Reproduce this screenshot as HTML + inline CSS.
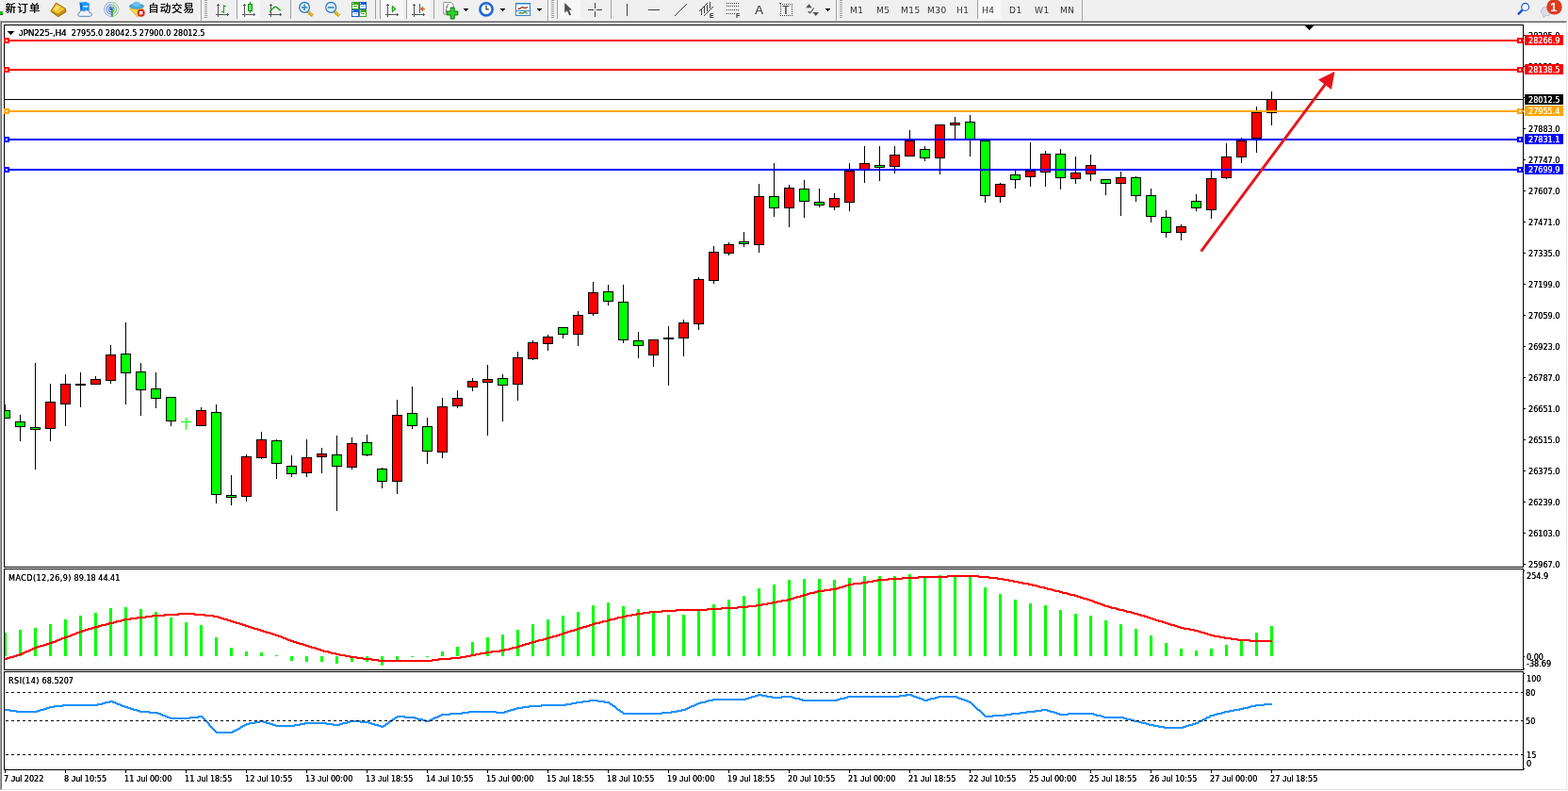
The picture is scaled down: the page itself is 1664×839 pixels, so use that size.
<!DOCTYPE html>
<html><head><meta charset="utf-8"><title>JPN225-,H4</title>
<style>
html,body{margin:0;padding:0;background:#f0f0f0;overflow:hidden}
body{width:1664px;height:839px;position:relative;font-family:"Liberation Sans","Noto Sans CJK SC",sans-serif}
#c{position:absolute;left:0;top:0}
.t{position:absolute;white-space:nowrap;color:#000;line-height:12px;height:12px}
.ax{font-family:"DejaVu Sans Condensed","Liberation Sans",sans-serif;font-size:9px;text-shadow:0 0 0 currentColor}
.w{color:#fff}
.L{font-family:"DejaVu Sans","Liberation Sans",sans-serif}
.J{font-family:"Liberation Sans",sans-serif}
.lb{width:37px;height:11px;padding-left:4px;overflow:hidden}
</style></head><body>
<svg id="c" width="1664" height="839" viewBox="0 0 1664 839" shape-rendering="crispEdges">
<rect x="0" y="21" width="1664" height="1" fill="#f5f5f5"/>
<rect x="0" y="22" width="1664" height="817" fill="#ffffff"/>
<rect x="0" y="22" width="1663" height="1" fill="#a0a0a0"/>
<rect x="0" y="22" width="1" height="816" fill="#a0a0a0"/>
<rect x="1" y="23" width="1661" height="1" fill="#696969"/>
<rect x="1" y="23" width="1" height="814" fill="#696969"/>
<rect x="1" y="837" width="1662" height="1" fill="#e3e3e3"/>
<rect x="1662" y="23" width="1" height="815" fill="#e3e3e3"/>
<rect x="0" y="838" width="1664" height="1" fill="#ffffff"/>
<rect x="1663" y="22" width="1" height="817" fill="#ffffff"/>
<rect x="4" y="26" width="1613" height="1" fill="#000"/>
<rect x="4" y="601" width="1613" height="1" fill="#000"/>
<rect x="4" y="26" width="1" height="576" fill="#000"/>
<rect x="1616" y="26" width="1" height="576" fill="#000"/>
<rect x="4" y="603" width="1613" height="1" fill="#000"/>
<rect x="4" y="710" width="1613" height="1" fill="#000"/>
<rect x="4" y="603" width="1" height="108" fill="#000"/>
<rect x="1616" y="603" width="1" height="108" fill="#000"/>
<rect x="4" y="712" width="1613" height="1" fill="#000"/>
<rect x="4" y="816" width="1613" height="1" fill="#000"/>
<rect x="4" y="712" width="1" height="105" fill="#000"/>
<rect x="1616" y="712" width="1" height="105" fill="#000"/>
<clipPath id="cm"><rect x="5" y="27" width="1611" height="574"/></clipPath>
<g clip-path="url(#cm)">
<rect x="5" y="429" width="1" height="15" fill="#000"/>
<rect x="0" y="435" width="11" height="9" fill="#000"/>
<rect x="1" y="436" width="9" height="7" fill="#00ff00"/>
<rect x="21" y="440" width="1" height="28" fill="#000"/>
<rect x="16" y="447" width="11" height="6" fill="#000"/>
<rect x="17" y="448" width="9" height="4" fill="#00ff00"/>
<rect x="37" y="385" width="1" height="113" fill="#000"/>
<rect x="32" y="453" width="11" height="3" fill="#000"/>
<rect x="33" y="454" width="9" height="1" fill="#00ff00"/>
<rect x="53" y="407" width="1" height="61" fill="#000"/>
<rect x="48" y="426" width="11" height="29" fill="#000"/>
<rect x="49" y="427" width="9" height="27" fill="#ff0000"/>
<rect x="69" y="397" width="1" height="55" fill="#000"/>
<rect x="64" y="407" width="11" height="22" fill="#000"/>
<rect x="65" y="408" width="9" height="20" fill="#ff0000"/>
<rect x="85" y="395" width="1" height="37" fill="#000"/>
<rect x="80" y="407" width="11" height="2" fill="#000"/>
<rect x="101" y="399" width="1" height="9" fill="#000"/>
<rect x="96" y="402" width="11" height="6" fill="#000"/>
<rect x="97" y="403" width="9" height="4" fill="#ff0000"/>
<rect x="117" y="366" width="1" height="41" fill="#000"/>
<rect x="112" y="376" width="11" height="28" fill="#000"/>
<rect x="113" y="377" width="9" height="26" fill="#ff0000"/>
<rect x="133" y="342" width="1" height="87" fill="#000"/>
<rect x="128" y="375" width="11" height="21" fill="#000"/>
<rect x="129" y="376" width="9" height="19" fill="#00ff00"/>
<rect x="149" y="385" width="1" height="56" fill="#000"/>
<rect x="144" y="394" width="11" height="20" fill="#000"/>
<rect x="145" y="395" width="9" height="18" fill="#00ff00"/>
<rect x="165" y="395" width="1" height="38" fill="#000"/>
<rect x="160" y="412" width="11" height="11" fill="#000"/>
<rect x="161" y="413" width="9" height="9" fill="#00ff00"/>
<rect x="181" y="421" width="1" height="31" fill="#000"/>
<rect x="176" y="421" width="11" height="26" fill="#000"/>
<rect x="177" y="422" width="9" height="24" fill="#00ff00"/>
<rect x="197" y="443" width="1" height="13" fill="#00ff00"/>
<rect x="192" y="447" width="11" height="1" fill="#00ff00"/>
<rect x="213" y="432" width="1" height="20" fill="#000"/>
<rect x="208" y="435" width="11" height="17" fill="#000"/>
<rect x="209" y="436" width="9" height="15" fill="#ff0000"/>
<rect x="229" y="429" width="1" height="105" fill="#000"/>
<rect x="224" y="437" width="11" height="88" fill="#000"/>
<rect x="225" y="438" width="9" height="86" fill="#00ff00"/>
<rect x="245" y="504" width="1" height="32" fill="#000"/>
<rect x="240" y="525" width="11" height="3" fill="#000"/>
<rect x="241" y="526" width="9" height="1" fill="#00ff00"/>
<rect x="261" y="482" width="1" height="50" fill="#000"/>
<rect x="256" y="484" width="11" height="43" fill="#000"/>
<rect x="257" y="485" width="9" height="41" fill="#ff0000"/>
<rect x="277" y="458" width="1" height="29" fill="#000"/>
<rect x="272" y="466" width="11" height="20" fill="#000"/>
<rect x="273" y="467" width="9" height="18" fill="#ff0000"/>
<rect x="293" y="466" width="1" height="42" fill="#000"/>
<rect x="288" y="467" width="11" height="25" fill="#000"/>
<rect x="289" y="468" width="9" height="23" fill="#00ff00"/>
<rect x="309" y="483" width="1" height="23" fill="#000"/>
<rect x="304" y="494" width="11" height="9" fill="#000"/>
<rect x="305" y="495" width="9" height="7" fill="#00ff00"/>
<rect x="325" y="466" width="1" height="40" fill="#000"/>
<rect x="320" y="485" width="11" height="17" fill="#000"/>
<rect x="321" y="486" width="9" height="15" fill="#ff0000"/>
<rect x="341" y="475" width="1" height="27" fill="#000"/>
<rect x="336" y="481" width="11" height="4" fill="#000"/>
<rect x="337" y="482" width="9" height="2" fill="#ff0000"/>
<rect x="357" y="462" width="1" height="80" fill="#000"/>
<rect x="352" y="482" width="11" height="13" fill="#000"/>
<rect x="353" y="483" width="9" height="11" fill="#00ff00"/>
<rect x="373" y="464" width="1" height="34" fill="#000"/>
<rect x="368" y="470" width="11" height="26" fill="#000"/>
<rect x="369" y="471" width="9" height="24" fill="#ff0000"/>
<rect x="389" y="461" width="1" height="23" fill="#000"/>
<rect x="384" y="469" width="11" height="14" fill="#000"/>
<rect x="385" y="470" width="9" height="12" fill="#00ff00"/>
<rect x="405" y="496" width="1" height="22" fill="#000"/>
<rect x="400" y="497" width="11" height="14" fill="#000"/>
<rect x="401" y="498" width="9" height="12" fill="#00ff00"/>
<rect x="421" y="424" width="1" height="100" fill="#000"/>
<rect x="416" y="440" width="11" height="71" fill="#000"/>
<rect x="417" y="441" width="9" height="69" fill="#ff0000"/>
<rect x="437" y="410" width="1" height="45" fill="#000"/>
<rect x="432" y="438" width="11" height="14" fill="#000"/>
<rect x="433" y="439" width="9" height="12" fill="#00ff00"/>
<rect x="453" y="443" width="1" height="49" fill="#000"/>
<rect x="448" y="452" width="11" height="27" fill="#000"/>
<rect x="449" y="453" width="9" height="25" fill="#00ff00"/>
<rect x="469" y="422" width="1" height="64" fill="#000"/>
<rect x="464" y="431" width="11" height="49" fill="#000"/>
<rect x="465" y="432" width="9" height="47" fill="#ff0000"/>
<rect x="485" y="414" width="1" height="19" fill="#000"/>
<rect x="480" y="422" width="11" height="9" fill="#000"/>
<rect x="481" y="423" width="9" height="7" fill="#ff0000"/>
<rect x="501" y="401" width="1" height="14" fill="#000"/>
<rect x="496" y="404" width="11" height="7" fill="#000"/>
<rect x="497" y="405" width="9" height="5" fill="#ff0000"/>
<rect x="517" y="387" width="1" height="75" fill="#000"/>
<rect x="512" y="402" width="11" height="4" fill="#000"/>
<rect x="513" y="403" width="9" height="2" fill="#ff0000"/>
<rect x="533" y="397" width="1" height="50" fill="#000"/>
<rect x="528" y="401" width="11" height="8" fill="#000"/>
<rect x="529" y="402" width="9" height="6" fill="#00ff00"/>
<rect x="549" y="373" width="1" height="52" fill="#000"/>
<rect x="544" y="379" width="11" height="29" fill="#000"/>
<rect x="545" y="380" width="9" height="27" fill="#ff0000"/>
<rect x="565" y="361" width="1" height="21" fill="#000"/>
<rect x="560" y="363" width="11" height="18" fill="#000"/>
<rect x="561" y="364" width="9" height="16" fill="#ff0000"/>
<rect x="581" y="355" width="1" height="17" fill="#000"/>
<rect x="576" y="357" width="11" height="8" fill="#000"/>
<rect x="577" y="358" width="9" height="6" fill="#ff0000"/>
<rect x="597" y="347" width="1" height="12" fill="#000"/>
<rect x="592" y="347" width="11" height="8" fill="#000"/>
<rect x="593" y="348" width="9" height="6" fill="#00ff00"/>
<rect x="613" y="330" width="1" height="37" fill="#000"/>
<rect x="608" y="334" width="11" height="21" fill="#000"/>
<rect x="609" y="335" width="9" height="19" fill="#ff0000"/>
<rect x="629" y="299" width="1" height="36" fill="#000"/>
<rect x="624" y="310" width="11" height="23" fill="#000"/>
<rect x="625" y="311" width="9" height="21" fill="#ff0000"/>
<rect x="645" y="302" width="1" height="22" fill="#000"/>
<rect x="640" y="309" width="11" height="11" fill="#000"/>
<rect x="641" y="310" width="9" height="9" fill="#00ff00"/>
<rect x="661" y="302" width="1" height="62" fill="#000"/>
<rect x="656" y="320" width="11" height="41" fill="#000"/>
<rect x="657" y="321" width="9" height="39" fill="#00ff00"/>
<rect x="677" y="352" width="1" height="28" fill="#000"/>
<rect x="672" y="361" width="11" height="6" fill="#000"/>
<rect x="673" y="362" width="9" height="4" fill="#00ff00"/>
<rect x="693" y="360" width="1" height="29" fill="#000"/>
<rect x="688" y="360" width="11" height="17" fill="#000"/>
<rect x="689" y="361" width="9" height="15" fill="#ff0000"/>
<rect x="709" y="346" width="1" height="63" fill="#000"/>
<rect x="704" y="358" width="11" height="2" fill="#000"/>
<rect x="725" y="339" width="1" height="39" fill="#000"/>
<rect x="720" y="342" width="11" height="17" fill="#000"/>
<rect x="721" y="343" width="9" height="15" fill="#ff0000"/>
<rect x="741" y="294" width="1" height="56" fill="#000"/>
<rect x="736" y="296" width="11" height="48" fill="#000"/>
<rect x="737" y="297" width="9" height="46" fill="#ff0000"/>
<rect x="757" y="261" width="1" height="40" fill="#000"/>
<rect x="752" y="267" width="11" height="31" fill="#000"/>
<rect x="753" y="268" width="9" height="29" fill="#ff0000"/>
<rect x="773" y="257" width="1" height="14" fill="#000"/>
<rect x="768" y="259" width="11" height="10" fill="#000"/>
<rect x="769" y="260" width="9" height="8" fill="#ff0000"/>
<rect x="789" y="246" width="1" height="16" fill="#000"/>
<rect x="784" y="256" width="11" height="3" fill="#000"/>
<rect x="785" y="257" width="9" height="1" fill="#00ff00"/>
<rect x="805" y="195" width="1" height="73" fill="#000"/>
<rect x="800" y="208" width="11" height="52" fill="#000"/>
<rect x="801" y="209" width="9" height="50" fill="#ff0000"/>
<rect x="821" y="173" width="1" height="57" fill="#000"/>
<rect x="816" y="208" width="11" height="13" fill="#000"/>
<rect x="817" y="209" width="9" height="11" fill="#00ff00"/>
<rect x="837" y="196" width="1" height="45" fill="#000"/>
<rect x="832" y="199" width="11" height="22" fill="#000"/>
<rect x="833" y="200" width="9" height="20" fill="#ff0000"/>
<rect x="853" y="191" width="1" height="40" fill="#000"/>
<rect x="848" y="200" width="11" height="14" fill="#000"/>
<rect x="849" y="201" width="9" height="12" fill="#00ff00"/>
<rect x="869" y="200" width="1" height="20" fill="#000"/>
<rect x="864" y="214" width="11" height="4" fill="#000"/>
<rect x="865" y="215" width="9" height="2" fill="#00ff00"/>
<rect x="885" y="205" width="1" height="18" fill="#000"/>
<rect x="880" y="210" width="11" height="10" fill="#000"/>
<rect x="881" y="211" width="9" height="8" fill="#ff0000"/>
<rect x="901" y="173" width="1" height="51" fill="#000"/>
<rect x="896" y="181" width="11" height="34" fill="#000"/>
<rect x="897" y="182" width="9" height="32" fill="#ff0000"/>
<rect x="917" y="155" width="1" height="39" fill="#000"/>
<rect x="912" y="173" width="11" height="8" fill="#000"/>
<rect x="913" y="174" width="9" height="6" fill="#ff0000"/>
<rect x="933" y="155" width="1" height="37" fill="#000"/>
<rect x="928" y="175" width="11" height="3" fill="#000"/>
<rect x="929" y="176" width="9" height="1" fill="#00ff00"/>
<rect x="949" y="155" width="1" height="29" fill="#000"/>
<rect x="944" y="164" width="11" height="13" fill="#000"/>
<rect x="945" y="165" width="9" height="11" fill="#ff0000"/>
<rect x="965" y="138" width="1" height="28" fill="#000"/>
<rect x="960" y="149" width="11" height="17" fill="#000"/>
<rect x="961" y="150" width="9" height="15" fill="#ff0000"/>
<rect x="981" y="155" width="1" height="16" fill="#000"/>
<rect x="976" y="158" width="11" height="10" fill="#000"/>
<rect x="977" y="159" width="9" height="8" fill="#00ff00"/>
<rect x="997" y="132" width="1" height="53" fill="#000"/>
<rect x="992" y="132" width="11" height="36" fill="#000"/>
<rect x="993" y="133" width="9" height="34" fill="#ff0000"/>
<rect x="1013" y="124" width="1" height="24" fill="#000"/>
<rect x="1008" y="130" width="11" height="3" fill="#000"/>
<rect x="1009" y="131" width="9" height="1" fill="#ff0000"/>
<rect x="1029" y="122" width="1" height="44" fill="#000"/>
<rect x="1024" y="129" width="11" height="19" fill="#000"/>
<rect x="1025" y="130" width="9" height="17" fill="#00ff00"/>
<rect x="1045" y="149" width="1" height="66" fill="#000"/>
<rect x="1040" y="149" width="11" height="59" fill="#000"/>
<rect x="1041" y="150" width="9" height="57" fill="#00ff00"/>
<rect x="1061" y="194" width="1" height="21" fill="#000"/>
<rect x="1056" y="195" width="11" height="14" fill="#000"/>
<rect x="1057" y="196" width="9" height="12" fill="#ff0000"/>
<rect x="1077" y="181" width="1" height="19" fill="#000"/>
<rect x="1072" y="185" width="11" height="6" fill="#000"/>
<rect x="1073" y="186" width="9" height="4" fill="#00ff00"/>
<rect x="1093" y="151" width="1" height="47" fill="#000"/>
<rect x="1088" y="181" width="11" height="7" fill="#000"/>
<rect x="1089" y="182" width="9" height="5" fill="#ff0000"/>
<rect x="1109" y="160" width="1" height="38" fill="#000"/>
<rect x="1104" y="163" width="11" height="20" fill="#000"/>
<rect x="1105" y="164" width="9" height="18" fill="#ff0000"/>
<rect x="1125" y="158" width="1" height="43" fill="#000"/>
<rect x="1120" y="163" width="11" height="26" fill="#000"/>
<rect x="1121" y="164" width="9" height="24" fill="#00ff00"/>
<rect x="1141" y="166" width="1" height="29" fill="#000"/>
<rect x="1136" y="183" width="11" height="7" fill="#000"/>
<rect x="1137" y="184" width="9" height="5" fill="#ff0000"/>
<rect x="1157" y="164" width="1" height="28" fill="#000"/>
<rect x="1152" y="175" width="11" height="10" fill="#000"/>
<rect x="1153" y="176" width="9" height="8" fill="#ff0000"/>
<rect x="1173" y="190" width="1" height="17" fill="#000"/>
<rect x="1168" y="190" width="11" height="5" fill="#000"/>
<rect x="1169" y="191" width="9" height="3" fill="#00ff00"/>
<rect x="1189" y="182" width="1" height="47" fill="#000"/>
<rect x="1184" y="188" width="11" height="7" fill="#000"/>
<rect x="1185" y="189" width="9" height="5" fill="#ff0000"/>
<rect x="1205" y="187" width="1" height="27" fill="#000"/>
<rect x="1200" y="188" width="11" height="20" fill="#000"/>
<rect x="1201" y="189" width="9" height="18" fill="#00ff00"/>
<rect x="1221" y="200" width="1" height="36" fill="#000"/>
<rect x="1216" y="207" width="11" height="23" fill="#000"/>
<rect x="1217" y="208" width="9" height="21" fill="#00ff00"/>
<rect x="1237" y="223" width="1" height="29" fill="#000"/>
<rect x="1232" y="230" width="11" height="17" fill="#000"/>
<rect x="1233" y="231" width="9" height="15" fill="#00ff00"/>
<rect x="1253" y="238" width="1" height="17" fill="#000"/>
<rect x="1248" y="240" width="11" height="7" fill="#000"/>
<rect x="1249" y="241" width="9" height="5" fill="#ff0000"/>
<rect x="1269" y="206" width="1" height="18" fill="#000"/>
<rect x="1264" y="213" width="11" height="8" fill="#000"/>
<rect x="1265" y="214" width="9" height="6" fill="#00ff00"/>
<rect x="1285" y="181" width="1" height="51" fill="#000"/>
<rect x="1280" y="189" width="11" height="34" fill="#000"/>
<rect x="1281" y="190" width="9" height="32" fill="#ff0000"/>
<rect x="1301" y="152" width="1" height="38" fill="#000"/>
<rect x="1296" y="166" width="11" height="23" fill="#000"/>
<rect x="1297" y="167" width="9" height="21" fill="#ff0000"/>
<rect x="1317" y="146" width="1" height="27" fill="#000"/>
<rect x="1312" y="149" width="11" height="18" fill="#000"/>
<rect x="1313" y="150" width="9" height="16" fill="#ff0000"/>
<rect x="1333" y="113" width="1" height="49" fill="#000"/>
<rect x="1328" y="119" width="11" height="28" fill="#000"/>
<rect x="1329" y="120" width="9" height="26" fill="#ff0000"/>
<rect x="1349" y="97" width="1" height="36" fill="#000"/>
<rect x="1344" y="105" width="11" height="15" fill="#000"/>
<rect x="1345" y="106" width="9" height="13" fill="#ff0000"/>
</g>
<rect x="5" y="42" width="1612" height="2" fill="#ff0000"/>
<rect x="4" y="40" width="6" height="6" fill="#ff0000"/>
<rect x="6" y="42" width="2" height="2" fill="#fff"/>
<rect x="1610" y="40" width="6" height="6" fill="#ff0000"/>
<rect x="1612" y="42" width="2" height="2" fill="#fff"/>
<rect x="5" y="73" width="1612" height="2" fill="#ff0000"/>
<rect x="4" y="71" width="6" height="6" fill="#ff0000"/>
<rect x="6" y="73" width="2" height="2" fill="#fff"/>
<rect x="1610" y="71" width="6" height="6" fill="#ff0000"/>
<rect x="1612" y="73" width="2" height="2" fill="#fff"/>
<rect x="5" y="105" width="1612" height="1" fill="#000000"/>
<rect x="5" y="117" width="1612" height="2" fill="#ffa500"/>
<rect x="4" y="115" width="6" height="6" fill="#ffa500"/>
<rect x="6" y="117" width="2" height="2" fill="#fff"/>
<rect x="1610" y="115" width="6" height="6" fill="#ffa500"/>
<rect x="1612" y="117" width="2" height="2" fill="#fff"/>
<rect x="5" y="147" width="1612" height="2" fill="#0000ff"/>
<rect x="4" y="145" width="6" height="6" fill="#0000ff"/>
<rect x="6" y="147" width="2" height="2" fill="#fff"/>
<rect x="1610" y="145" width="6" height="6" fill="#0000ff"/>
<rect x="1612" y="147" width="2" height="2" fill="#fff"/>
<rect x="5" y="179" width="1612" height="2" fill="#0000ff"/>
<rect x="4" y="177" width="6" height="6" fill="#0000ff"/>
<rect x="6" y="179" width="2" height="2" fill="#fff"/>
<rect x="1610" y="177" width="6" height="6" fill="#0000ff"/>
<rect x="1612" y="179" width="2" height="2" fill="#fff"/>
<rect x="1617" y="37" width="2" height="1" fill="#000"/>
<rect x="1617" y="70" width="2" height="1" fill="#000"/>
<rect x="1617" y="103" width="2" height="1" fill="#000"/>
<rect x="1617" y="136" width="2" height="1" fill="#000"/>
<rect x="1617" y="169" width="2" height="1" fill="#000"/>
<rect x="1617" y="202" width="2" height="1" fill="#000"/>
<rect x="1617" y="235" width="2" height="1" fill="#000"/>
<rect x="1617" y="268" width="2" height="1" fill="#000"/>
<rect x="1617" y="301" width="2" height="1" fill="#000"/>
<rect x="1617" y="334" width="2" height="1" fill="#000"/>
<rect x="1617" y="367" width="2" height="1" fill="#000"/>
<rect x="1617" y="400" width="2" height="1" fill="#000"/>
<rect x="1617" y="433" width="2" height="1" fill="#000"/>
<rect x="1617" y="466" width="2" height="1" fill="#000"/>
<rect x="1617" y="499" width="2" height="1" fill="#000"/>
<rect x="1617" y="532" width="2" height="1" fill="#000"/>
<rect x="1617" y="565" width="2" height="1" fill="#000"/>
<rect x="1617" y="598" width="2" height="1" fill="#000"/>
<clipPath id="c2"><rect x="5" y="604" width="1611" height="106"/></clipPath>
<g clip-path="url(#c2)">
<rect x="4" y="671" width="3" height="25" fill="#00ff00"/>
<rect x="20" y="668" width="3" height="28" fill="#00ff00"/>
<rect x="36" y="666" width="3" height="30" fill="#00ff00"/>
<rect x="52" y="662" width="3" height="34" fill="#00ff00"/>
<rect x="68" y="657" width="3" height="39" fill="#00ff00"/>
<rect x="84" y="653" width="3" height="43" fill="#00ff00"/>
<rect x="100" y="650" width="3" height="46" fill="#00ff00"/>
<rect x="116" y="645" width="3" height="51" fill="#00ff00"/>
<rect x="132" y="644" width="3" height="52" fill="#00ff00"/>
<rect x="148" y="646" width="3" height="50" fill="#00ff00"/>
<rect x="164" y="649" width="3" height="47" fill="#00ff00"/>
<rect x="180" y="655" width="3" height="41" fill="#00ff00"/>
<rect x="196" y="660" width="3" height="36" fill="#00ff00"/>
<rect x="212" y="663" width="3" height="33" fill="#00ff00"/>
<rect x="228" y="676" width="3" height="20" fill="#00ff00"/>
<rect x="244" y="687" width="3" height="9" fill="#00ff00"/>
<rect x="260" y="691" width="3" height="5" fill="#00ff00"/>
<rect x="276" y="692" width="3" height="4" fill="#00ff00"/>
<rect x="292" y="695" width="3" height="1" fill="#00ff00"/>
<rect x="468" y="691" width="3" height="5" fill="#00ff00"/>
<rect x="484" y="686" width="3" height="10" fill="#00ff00"/>
<rect x="500" y="681" width="3" height="15" fill="#00ff00"/>
<rect x="516" y="676" width="3" height="20" fill="#00ff00"/>
<rect x="532" y="673" width="3" height="23" fill="#00ff00"/>
<rect x="548" y="668" width="3" height="28" fill="#00ff00"/>
<rect x="564" y="662" width="3" height="34" fill="#00ff00"/>
<rect x="580" y="657" width="3" height="39" fill="#00ff00"/>
<rect x="596" y="653" width="3" height="43" fill="#00ff00"/>
<rect x="612" y="649" width="3" height="47" fill="#00ff00"/>
<rect x="628" y="642" width="3" height="54" fill="#00ff00"/>
<rect x="644" y="639" width="3" height="57" fill="#00ff00"/>
<rect x="660" y="643" width="3" height="53" fill="#00ff00"/>
<rect x="676" y="646" width="3" height="50" fill="#00ff00"/>
<rect x="692" y="650" width="3" height="46" fill="#00ff00"/>
<rect x="708" y="652" width="3" height="44" fill="#00ff00"/>
<rect x="724" y="652" width="3" height="44" fill="#00ff00"/>
<rect x="740" y="648" width="3" height="48" fill="#00ff00"/>
<rect x="756" y="641" width="3" height="55" fill="#00ff00"/>
<rect x="772" y="636" width="3" height="60" fill="#00ff00"/>
<rect x="788" y="632" width="3" height="64" fill="#00ff00"/>
<rect x="804" y="624" width="3" height="72" fill="#00ff00"/>
<rect x="820" y="620" width="3" height="76" fill="#00ff00"/>
<rect x="836" y="615" width="3" height="81" fill="#00ff00"/>
<rect x="852" y="614" width="3" height="82" fill="#00ff00"/>
<rect x="868" y="614" width="3" height="82" fill="#00ff00"/>
<rect x="884" y="615" width="3" height="81" fill="#00ff00"/>
<rect x="900" y="613" width="3" height="83" fill="#00ff00"/>
<rect x="916" y="611" width="3" height="85" fill="#00ff00"/>
<rect x="932" y="611" width="3" height="85" fill="#00ff00"/>
<rect x="948" y="611" width="3" height="85" fill="#00ff00"/>
<rect x="964" y="609" width="3" height="87" fill="#00ff00"/>
<rect x="980" y="611" width="3" height="85" fill="#00ff00"/>
<rect x="996" y="610" width="3" height="86" fill="#00ff00"/>
<rect x="1012" y="610" width="3" height="86" fill="#00ff00"/>
<rect x="1028" y="612" width="3" height="84" fill="#00ff00"/>
<rect x="1044" y="623" width="3" height="73" fill="#00ff00"/>
<rect x="1060" y="630" width="3" height="66" fill="#00ff00"/>
<rect x="1076" y="636" width="3" height="60" fill="#00ff00"/>
<rect x="1092" y="640" width="3" height="56" fill="#00ff00"/>
<rect x="1108" y="642" width="3" height="54" fill="#00ff00"/>
<rect x="1124" y="647" width="3" height="49" fill="#00ff00"/>
<rect x="1140" y="651" width="3" height="45" fill="#00ff00"/>
<rect x="1156" y="653" width="3" height="43" fill="#00ff00"/>
<rect x="1172" y="658" width="3" height="38" fill="#00ff00"/>
<rect x="1188" y="662" width="3" height="34" fill="#00ff00"/>
<rect x="1204" y="667" width="3" height="29" fill="#00ff00"/>
<rect x="1220" y="674" width="3" height="22" fill="#00ff00"/>
<rect x="1236" y="682" width="3" height="14" fill="#00ff00"/>
<rect x="1252" y="688" width="3" height="8" fill="#00ff00"/>
<rect x="1268" y="690" width="3" height="6" fill="#00ff00"/>
<rect x="1284" y="688" width="3" height="8" fill="#00ff00"/>
<rect x="1300" y="684" width="3" height="12" fill="#00ff00"/>
<rect x="1316" y="678" width="3" height="18" fill="#00ff00"/>
<rect x="1332" y="671" width="3" height="25" fill="#00ff00"/>
<rect x="1348" y="664" width="3" height="32" fill="#00ff00"/>
<rect x="308" y="696" width="3" height="5" fill="#00ff00"/>
<rect x="324" y="696" width="3" height="6" fill="#00ff00"/>
<rect x="340" y="696" width="3" height="6" fill="#00ff00"/>
<rect x="356" y="696" width="3" height="8" fill="#00ff00"/>
<rect x="372" y="696" width="3" height="6" fill="#00ff00"/>
<rect x="388" y="696" width="3" height="6" fill="#00ff00"/>
<rect x="404" y="696" width="3" height="10" fill="#00ff00"/>
<rect x="420" y="696" width="3" height="4" fill="#00ff00"/>
<rect x="436" y="696" width="3" height="1" fill="#00ff00"/>
<rect x="452" y="696" width="3" height="1" fill="#00ff00"/>
<path d="M1005 610h34v1h-34zM974 611h76v1h-76zM957 612h49v1h-49zM1038 612h21v1h-21zM942 613h33v1h-33zM1049 613h16v1h-16zM931 614h27v1h-27zM1058 614h13v1h-13zM926 615h17v1h-17zM1064 615h12v1h-12zM920 616h12v1h-12zM1070 616h11v1h-11zM914 617h13v1h-13zM1075 617h11v1h-11zM905 618h16v1h-16zM1080 618h12v1h-12zM900 619h15v1h-15zM1085 619h11v1h-11zM897 620h9v1h-9zM1091 620h10v1h-10zM894 621h7v1h-7zM1095 621h9v1h-9zM890 622h8v1h-8zM1100 622h9v1h-9zM887 623h8v1h-8zM1103 623h9v1h-9zM881 624h10v1h-10zM1108 624h9v1h-9zM874 625h14v1h-14zM1111 625h9v1h-9zM867 626h15v1h-15zM1116 626h9v1h-9zM864 627h11v1h-11zM1119 627h9v1h-9zM859 628h9v1h-9zM1124 628h9v1h-9zM856 629h9v1h-9zM1127 629h9v1h-9zM852 630h8v1h-8zM1132 630h9v1h-9zM849 631h8v1h-8zM1135 631h9v1h-9zM845 632h8v1h-8zM1140 632h7v1h-7zM842 633h8v1h-8zM1143 633h7v1h-7zM839 634h7v1h-7zM1146 634h8v1h-8zM835 635h8v1h-8zM1149 635h8v1h-8zM829 636h11v1h-11zM1153 636h7v1h-7zM824 637h12v1h-12zM1156 637h6v1h-6zM819 638h11v1h-11zM1159 638h6v1h-6zM814 639h11v1h-11zM1161 639h7v1h-7zM808 640h12v1h-12zM1164 640h7v1h-7zM802 641h13v1h-13zM1167 641h6v1h-6zM793 642h16v1h-16zM1170 642h7v1h-7zM782 643h21v1h-21zM1172 643h8v1h-8zM765 644h29v1h-29zM1176 644h9v1h-9zM750 645h33v1h-33zM1179 645h9v1h-9zM717 646h49v1h-49zM1184 646h9v1h-9zM702 647h49v1h-49zM1187 647h9v1h-9zM689 648h29v1h-29zM1192 648h9v1h-9zM682 649h21v1h-21zM1195 649h9v1h-9zM189 650h18v1h-18zM675 650h15v1h-15zM1200 650h8v1h-8zM174 651h44v1h-44zM670 651h13v1h-13zM1203 651h8v1h-8zM161 652h29v1h-29zM206 652h21v1h-21zM664 652h12v1h-12zM1207 652h8v1h-8zM154 653h21v1h-21zM217 653h15v1h-15zM660 653h11v1h-11zM1210 653h8v1h-8zM145 654h17v1h-17zM226 654h9v1h-9zM655 654h10v1h-10zM1214 654h7v1h-7zM138 655h17v1h-17zM231 655h7v1h-7zM652 655h9v1h-9zM1217 655h7v1h-7zM131 656h15v1h-15zM234 656h8v1h-8zM647 656h9v1h-9zM1220 656h7v1h-7zM128 657h11v1h-11zM237 657h8v1h-8zM644 657h9v1h-9zM1223 657h7v1h-7zM123 658h9v1h-9zM241 658h7v1h-7zM639 658h9v1h-9zM1226 658h8v1h-8zM120 659h9v1h-9zM244 659h7v1h-7zM636 659h9v1h-9zM1229 659h8v1h-8zM115 660h9v1h-9zM247 660h8v1h-8zM631 660h9v1h-9zM1233 660h7v1h-7zM112 661h9v1h-9zM250 661h8v1h-8zM628 661h9v1h-9zM1236 661h7v1h-7zM107 662h9v1h-9zM254 662h7v1h-7zM625 662h7v1h-7zM1239 662h8v1h-8zM104 663h9v1h-9zM257 663h7v1h-7zM622 663h7v1h-7zM1242 663h8v1h-8zM100 664h8v1h-8zM260 664h7v1h-7zM618 664h8v1h-8zM1246 664h7v1h-7zM97 665h8v1h-8zM263 665h7v1h-7zM615 665h8v1h-8zM1249 665h8v1h-8zM93 666h8v1h-8zM266 666h8v1h-8zM612 666h7v1h-7zM1252 666h11v1h-11zM90 667h8v1h-8zM269 667h8v1h-8zM609 667h7v1h-7zM1256 667h12v1h-12zM87 668h7v1h-7zM273 668h7v1h-7zM605 668h8v1h-8zM1262 668h10v1h-10zM84 669h7v1h-7zM276 669h7v1h-7zM602 669h8v1h-8zM1267 669h8v1h-8zM81 670h7v1h-7zM279 670h8v1h-8zM599 670h7v1h-7zM1271 670h8v1h-8zM79 671h6v1h-6zM282 671h8v1h-8zM596 671h7v1h-7zM1274 671h8v1h-8zM76 672h6v1h-6zM286 672h7v1h-7zM593 672h7v1h-7zM1278 672h7v1h-7zM74 673h6v1h-6zM289 673h7v1h-7zM590 673h7v1h-7zM1281 673h8v1h-8zM71 674h6v1h-6zM292 674h7v1h-7zM586 674h8v1h-8zM1284 674h11v1h-11zM68 675h7v1h-7zM295 675h6v1h-6zM583 675h8v1h-8zM1288 675h12v1h-12zM65 676h7v1h-7zM298 676h6v1h-6zM579 676h8v1h-8zM1294 676h13v1h-13zM63 677h6v1h-6zM300 677h6v1h-6zM576 677h8v1h-8zM1299 677h15v1h-15zM60 678h6v1h-6zM303 678h6v1h-6zM571 678h9v1h-9zM1306 678h21v1h-21zM58 679h6v1h-6zM305 679h7v1h-7zM568 679h9v1h-9zM1313 679h37v1h-37zM55 680h6v1h-6zM308 680h7v1h-7zM564 680h8v1h-8zM1326 680h24v1h-24zM52 681h7v1h-7zM311 681h7v1h-7zM561 681h8v1h-8zM49 682h7v1h-7zM314 682h8v1h-8zM557 682h8v1h-8zM46 683h7v1h-7zM317 683h8v1h-8zM554 683h8v1h-8zM42 684h8v1h-8zM321 684h7v1h-7zM551 684h7v1h-7zM39 685h8v1h-8zM324 685h7v1h-7zM548 685h7v1h-7zM36 686h7v1h-7zM327 686h8v1h-8zM543 686h9v1h-9zM34 687h6v1h-6zM330 687h8v1h-8zM540 687h9v1h-9zM32 688h5v1h-5zM334 688h7v1h-7zM535 688h9v1h-9zM30 689h5v1h-5zM337 689h7v1h-7zM530 689h11v1h-11zM27 690h6v1h-6zM340 690h9v1h-9zM521 690h15v1h-15zM25 691h6v1h-6zM343 691h9v1h-9zM515 691h16v1h-16zM23 692h5v1h-5zM348 692h9v1h-9zM509 692h13v1h-13zM20 693h6v1h-6zM351 693h10v1h-10zM504 693h12v1h-12zM17 694h7v1h-7zM356 694h11v1h-11zM499 694h11v1h-11zM14 695h7v1h-7zM360 695h12v1h-12zM494 695h11v1h-11zM10 696h8v1h-8zM366 696h13v1h-13zM488 696h12v1h-12zM7 697h8v1h-8zM371 697h15v1h-15zM478 697h17v1h-17zM5 698h6v1h-6zM378 698h17v1h-17zM465 698h24v1h-24zM5 699h3v1h-3zM385 699h17v1h-17zM458 699h21v1h-21zM394 700h72v1h-72zM401 701h58v1h-58z" fill="#ff0000"/>
</g>
<rect x="1617" y="605" width="1" height="1" fill="#000"/>
<rect x="1617" y="696" width="1" height="1" fill="#000"/>
<rect x="1617" y="709" width="1" height="1" fill="#000"/>
<clipPath id="c3"><rect x="5" y="713" width="1611" height="103"/></clipPath>
<g clip-path="url(#c3)">
<path d="M804 736h5v1h-5zM961 736h7v1h-7zM801 737h13v1h-13zM954 737h16v1h-16zM797 738h8v1h-8zM808 738h12v1h-12zM829 738h12v1h-12zM899 738h63v1h-63zM967 738h6v1h-6zM995 738h21v1h-21zM794 739h8v1h-8zM813 739h31v1h-31zM896 739h59v1h-59zM969 739h7v1h-7zM992 739h26v1h-26zM791 740h7v1h-7zM819 740h11v1h-11zM840 740h9v1h-9zM891 740h9v1h-9zM972 740h7v1h-7zM987 740h9v1h-9zM1015 740h6v1h-6zM756 741h39v1h-39zM843 741h9v1h-9zM888 741h9v1h-9zM975 741h6v1h-6zM984 741h9v1h-9zM1017 741h7v1h-7zM625 742h10v1h-10zM751 742h41v1h-41zM848 742h44v1h-44zM978 742h10v1h-10zM1020 742h7v1h-7zM116 743h4v1h-4zM618 743h24v1h-24zM748 743h9v1h-9zM851 743h38v1h-38zM980 743h5v1h-5zM1023 743h6v1h-6zM111 744h12v1h-12zM611 744h15v1h-15zM634 744h13v1h-13zM743 744h9v1h-9zM1026 744h5v1h-5zM108 745h9v1h-9zM119 745h6v1h-6zM606 745h13v1h-13zM641 745h7v1h-7zM740 745h9v1h-9zM1028 745h4v1h-4zM103 746h9v1h-9zM122 746h6v1h-6zM600 746h12v1h-12zM646 746h4v1h-4zM738 746h6v1h-6zM1030 746h3v1h-3zM1341 746h9v1h-9zM66 747h43v1h-43zM124 747h6v1h-6zM574 747h33v1h-33zM647 747h4v1h-4zM736 747h5v1h-5zM1031 747h3v1h-3zM1332 747h18v1h-18zM57 748h47v1h-47zM127 748h6v1h-6zM561 748h40v1h-40zM649 748h4v1h-4zM733 748h6v1h-6zM1032 748h3v1h-3zM1327 748h15v1h-15zM52 749h15v1h-15zM129 749h7v1h-7zM554 749h21v1h-21zM650 749h4v1h-4zM731 749h6v1h-6zM1033 749h3v1h-3zM1324 749h9v1h-9zM49 750h9v1h-9zM132 750h7v1h-7zM548 750h14v1h-14zM652 750h3v1h-3zM729 750h5v1h-5zM1034 750h3v1h-3zM1319 750h9v1h-9zM46 751h7v1h-7zM135 751h7v1h-7zM545 751h10v1h-10zM653 751h3v1h-3zM727 751h5v1h-5zM1035 751h3v1h-3zM1315 751h10v1h-10zM5 752h6v1h-6zM42 752h8v1h-8zM138 752h8v1h-8zM541 752h8v1h-8zM654 752h4v1h-4zM723 752h7v1h-7zM1036 752h4v1h-4zM1105 752h7v1h-7zM1309 752h11v1h-11zM5 753h13v1h-13zM39 753h8v1h-8zM141 753h8v1h-8zM538 753h8v1h-8zM655 753h4v1h-4zM718 753h10v1h-10zM1037 753h4v1h-4zM1098 753h17v1h-17zM1304 753h12v1h-12zM10 754h33v1h-33zM145 754h14v1h-14zM497 754h30v1h-30zM535 754h7v1h-7zM657 754h4v1h-4zM712 754h12v1h-12zM1039 754h3v1h-3zM1089 754h17v1h-17zM1111 754h8v1h-8zM1299 754h11v1h-11zM17 755h23v1h-23zM148 755h20v1h-20zM490 755h49v1h-49zM658 755h4v1h-4zM702 755h17v1h-17zM1040 755h3v1h-3zM1082 755h17v1h-17zM1114 755h8v1h-8zM1296 755h9v1h-9zM158 756h13v1h-13zM477 756h21v1h-21zM526 756h10v1h-10zM660 756h53v1h-53zM1041 756h3v1h-3zM1073 756h17v1h-17zM1118 756h7v1h-7zM1133 756h28v1h-28zM1291 756h9v1h-9zM167 757h6v1h-6zM468 757h23v1h-23zM661 757h42v1h-42zM1042 757h3v1h-3zM1066 757h17v1h-17zM1121 757h43v1h-43zM1288 757h9v1h-9zM170 758h6v1h-6zM466 758h12v1h-12zM1043 758h3v1h-3zM1053 758h21v1h-21zM1124 758h10v1h-10zM1160 758h9v1h-9zM1284 758h8v1h-8zM172 759h6v1h-6zM210 759h5v1h-5zM421 759h9v1h-9zM464 759h5v1h-5zM1044 759h23v1h-23zM1163 759h9v1h-9zM1283 759h6v1h-6zM175 760h6v1h-6zM201 760h15v1h-15zM419 760h22v1h-22zM461 760h6v1h-6zM1045 760h9v1h-9zM1168 760h25v1h-25zM1280 760h5v1h-5zM177 761h34v1h-34zM214 761h3v1h-3zM418 761h4v1h-4zM429 761h15v1h-15zM459 761h6v1h-6zM1171 761h25v1h-25zM1279 761h5v1h-5zM180 762h22v1h-22zM215 762h3v1h-3zM416 762h4v1h-4zM440 762h9v1h-9zM457 762h5v1h-5zM1192 762h9v1h-9zM1276 762h5v1h-5zM216 763h3v1h-3zM415 763h4v1h-4zM443 763h9v1h-9zM455 763h5v1h-5zM1195 763h9v1h-9zM1275 763h5v1h-5zM217 764h3v1h-3zM275 764h5v1h-5zM371 764h12v1h-12zM413 764h4v1h-4zM448 764h10v1h-10zM1200 764h9v1h-9zM1272 764h5v1h-5zM218 765h3v1h-3zM270 765h13v1h-13zM368 765h24v1h-24zM412 765h4v1h-4zM451 765h5v1h-5zM1203 765h9v1h-9zM1271 765h5v1h-5zM219 766h3v1h-3zM264 766h12v1h-12zM279 766h8v1h-8zM323 766h24v1h-24zM363 766h9v1h-9zM382 766h13v1h-13zM411 766h3v1h-3zM1208 766h9v1h-9zM1268 766h5v1h-5zM220 767h3v1h-3zM261 767h10v1h-10zM282 767h8v1h-8zM318 767h36v1h-36zM360 767h9v1h-9zM391 767h7v1h-7zM409 767h4v1h-4zM1211 767h9v1h-9zM1265 767h7v1h-7zM221 768h2v1h-2zM259 768h6v1h-6zM286 768h7v1h-7zM312 768h12v1h-12zM346 768h18v1h-18zM394 768h8v1h-8zM408 768h4v1h-4zM1216 768h9v1h-9zM1261 768h8v1h-8zM221 769h3v1h-3zM257 769h5v1h-5zM289 769h30v1h-30zM353 769h8v1h-8zM397 769h8v1h-8zM406 769h4v1h-4zM1219 769h11v1h-11zM1258 769h8v1h-8zM222 770h3v1h-3zM255 770h5v1h-5zM292 770h21v1h-21zM401 770h8v1h-8zM1224 770h12v1h-12zM1255 770h7v1h-7zM223 771h3v1h-3zM254 771h4v1h-4zM404 771h3v1h-3zM1229 771h30v1h-30zM224 772h3v1h-3zM252 772h4v1h-4zM1235 772h21v1h-21zM225 773h3v1h-3zM250 773h5v1h-5zM226 774h3v1h-3zM248 774h5v1h-5zM227 775h3v1h-3zM246 775h5v1h-5zM228 776h21v1h-21zM229 777h18v1h-18z" fill="#1e90ff"/>
<line x1="6" y1="734.5" x2="1616" y2="734.5" stroke="#000" stroke-width="1" stroke-dasharray="3 3"/>
<line x1="6" y1="764.5" x2="1616" y2="764.5" stroke="#000" stroke-width="1" stroke-dasharray="3 3"/>
<line x1="6" y1="800.5" x2="1616" y2="800.5" stroke="#000" stroke-width="1" stroke-dasharray="3 3"/>
</g>
<rect x="1617" y="714" width="1" height="1" fill="#000"/>
<rect x="1617" y="815" width="1" height="1" fill="#000"/>
<rect x="5" y="817" width="1" height="3" fill="#000"/>
<rect x="69" y="817" width="1" height="3" fill="#000"/>
<rect x="133" y="817" width="1" height="3" fill="#000"/>
<rect x="197" y="817" width="1" height="3" fill="#000"/>
<rect x="261" y="817" width="1" height="3" fill="#000"/>
<rect x="325" y="817" width="1" height="3" fill="#000"/>
<rect x="389" y="817" width="1" height="3" fill="#000"/>
<rect x="453" y="817" width="1" height="3" fill="#000"/>
<rect x="517" y="817" width="1" height="3" fill="#000"/>
<rect x="581" y="817" width="1" height="3" fill="#000"/>
<rect x="645" y="817" width="1" height="3" fill="#000"/>
<rect x="709" y="817" width="1" height="3" fill="#000"/>
<rect x="773" y="817" width="1" height="3" fill="#000"/>
<rect x="837" y="817" width="1" height="3" fill="#000"/>
<rect x="901" y="817" width="1" height="3" fill="#000"/>
<rect x="965" y="817" width="1" height="3" fill="#000"/>
<rect x="1029" y="817" width="1" height="3" fill="#000"/>
<rect x="1093" y="817" width="1" height="3" fill="#000"/>
<rect x="1157" y="817" width="1" height="3" fill="#000"/>
<rect x="1221" y="817" width="1" height="3" fill="#000"/>
<rect x="1285" y="817" width="1" height="3" fill="#000"/>
<rect x="1349" y="817" width="1" height="3" fill="#000"/>
<path d="M8 33h7v1h-1v1h-1v1h-1v1h-1v-1h-1v-1h-1v-1h-1z" fill="#000"/>
<path d="M1385 27h9v1h-1v1h-1v1h-1v1h-1v1h-1v-1h-1v-1h-1v-1h-1v-1h-1z" fill="#000"/>
<g shape-rendering="geometricPrecision"><line x1="1274.6" y1="266.6" x2="1407" y2="88.6" stroke="#e8141c" stroke-width="2.9"/><polygon points="1416.5,75.8 1399,84.4 1413,95" fill="#e8141c"/></g>
<g id="tb">
<pattern id="ck" width="2" height="2" patternUnits="userSpaceOnUse"><rect width="2" height="2" fill="#f0f0f0"/><rect width="1" height="1" fill="#fff"/><rect x="1" y="1" width="1" height="1" fill="#fff"/></pattern>
<rect x="252" y="0" width="24" height="20" fill="url(#ck)"/>
<rect x="251" y="0" width="1" height="20" fill="#a0a0a0"/>
<rect x="404" y="0" width="24" height="20" fill="url(#ck)"/>
<rect x="403" y="0" width="1" height="20" fill="#a0a0a0"/>
<rect x="432" y="0" width="24" height="20" fill="url(#ck)"/>
<rect x="431" y="0" width="1" height="20" fill="#a0a0a0"/>
<rect x="592" y="0" width="24" height="20" fill="url(#ck)"/>
<rect x="591" y="0" width="1" height="20" fill="#a0a0a0"/>
<rect x="1038" y="0" width="24" height="20" fill="url(#ck)"/>
<rect x="1037" y="0" width="1" height="20" fill="#a0a0a0"/>
<rect x="308" y="0" width="1" height="20" fill="#a0a0a0"/>
<rect x="398" y="0" width="1" height="20" fill="#a0a0a0"/>
<rect x="460" y="0" width="1" height="20" fill="#a0a0a0"/>
<rect x="648" y="0" width="1" height="20" fill="#a0a0a0"/>
<rect x="213" y="0" width="1" height="22" fill="#a0a0a0"/>
<rect x="214" y="0" width="1" height="22" fill="#ffffff"/>
<rect x="581" y="0" width="1" height="22" fill="#a0a0a0"/>
<rect x="582" y="0" width="1" height="22" fill="#ffffff"/>
<rect x="887" y="0" width="1" height="22" fill="#a0a0a0"/>
<rect x="888" y="0" width="1" height="22" fill="#ffffff"/>
<rect x="1148" y="0" width="1" height="22" fill="#a0a0a0"/>
<rect x="1149" y="0" width="1" height="22" fill="#ffffff"/>
<rect x="217" y="0" width="3" height="1" fill="#a0a0a0"/>
<rect x="217" y="2" width="3" height="1" fill="#a0a0a0"/>
<rect x="217" y="4" width="3" height="1" fill="#a0a0a0"/>
<rect x="217" y="6" width="3" height="1" fill="#a0a0a0"/>
<rect x="217" y="8" width="3" height="1" fill="#a0a0a0"/>
<rect x="217" y="10" width="3" height="1" fill="#a0a0a0"/>
<rect x="217" y="12" width="3" height="1" fill="#a0a0a0"/>
<rect x="217" y="14" width="3" height="1" fill="#a0a0a0"/>
<rect x="217" y="16" width="3" height="1" fill="#a0a0a0"/>
<rect x="217" y="18" width="3" height="1" fill="#a0a0a0"/>
<rect x="585" y="0" width="3" height="1" fill="#a0a0a0"/>
<rect x="585" y="2" width="3" height="1" fill="#a0a0a0"/>
<rect x="585" y="4" width="3" height="1" fill="#a0a0a0"/>
<rect x="585" y="6" width="3" height="1" fill="#a0a0a0"/>
<rect x="585" y="8" width="3" height="1" fill="#a0a0a0"/>
<rect x="585" y="10" width="3" height="1" fill="#a0a0a0"/>
<rect x="585" y="12" width="3" height="1" fill="#a0a0a0"/>
<rect x="585" y="14" width="3" height="1" fill="#a0a0a0"/>
<rect x="585" y="16" width="3" height="1" fill="#a0a0a0"/>
<rect x="585" y="18" width="3" height="1" fill="#a0a0a0"/>
<rect x="891" y="0" width="3" height="1" fill="#a0a0a0"/>
<rect x="891" y="2" width="3" height="1" fill="#a0a0a0"/>
<rect x="891" y="4" width="3" height="1" fill="#a0a0a0"/>
<rect x="891" y="6" width="3" height="1" fill="#a0a0a0"/>
<rect x="891" y="8" width="3" height="1" fill="#a0a0a0"/>
<rect x="891" y="10" width="3" height="1" fill="#a0a0a0"/>
<rect x="891" y="12" width="3" height="1" fill="#a0a0a0"/>
<rect x="891" y="14" width="3" height="1" fill="#a0a0a0"/>
<rect x="891" y="16" width="3" height="1" fill="#a0a0a0"/>
<rect x="891" y="18" width="3" height="1" fill="#a0a0a0"/>
<rect x="0" y="12" width="3" height="3" fill="#22b422"/>
<rect x="0" y="15" width="3" height="1" fill="#0a6a0a"/>
<path d="M492 9h5v1h-1v1h-1v1h-1v-1h-1v-1h-1z" fill="#000"/>
<path d="M531 9h5v1h-1v1h-1v1h-1v-1h-1v-1h-1z" fill="#000"/>
<path d="M570 9h5v1h-1v1h-1v1h-1v-1h-1v-1h-1z" fill="#000"/>
<path d="M876 9h5v1h-1v1h-1v1h-1v-1h-1v-1h-1z" fill="#000"/>
<rect x="231" y="4" width="1" height="14" fill="#555555"/>
<rect x="230" y="5" width="3" height="1" fill="#555555"/>
<rect x="229" y="15" width="14" height="1" fill="#555555"/>
<rect x="241" y="14" width="1" height="3" fill="#555555"/>
<rect x="259" y="4" width="1" height="14" fill="#555555"/>
<rect x="258" y="5" width="3" height="1" fill="#555555"/>
<rect x="257" y="15" width="14" height="1" fill="#555555"/>
<rect x="269" y="14" width="1" height="3" fill="#555555"/>
<rect x="287" y="4" width="1" height="14" fill="#555555"/>
<rect x="286" y="5" width="3" height="1" fill="#555555"/>
<rect x="285" y="15" width="14" height="1" fill="#555555"/>
<rect x="297" y="14" width="1" height="3" fill="#555555"/>
<rect x="411" y="4" width="1" height="14" fill="#555555"/>
<rect x="410" y="5" width="3" height="1" fill="#555555"/>
<rect x="409" y="15" width="14" height="1" fill="#555555"/>
<rect x="421" y="14" width="1" height="3" fill="#555555"/>
<rect x="439" y="4" width="1" height="14" fill="#555555"/>
<rect x="438" y="5" width="3" height="1" fill="#555555"/>
<rect x="437" y="15" width="14" height="1" fill="#555555"/>
<rect x="449" y="14" width="1" height="3" fill="#555555"/>
<rect x="237" y="5" width="1" height="9" fill="#1e9e1e"/>
<rect x="238" y="6" width="2" height="1" fill="#1e9e1e"/>
<rect x="235" y="12" width="2" height="1" fill="#1e9e1e"/>
<rect x="265" y="2" width="1" height="12" fill="#118a11"/>
<rect x="263" y="4" width="5" height="8" fill="#118a11"/>
<rect x="264" y="5" width="3" height="6" fill="#5fe85f"/>
<rect x="445" y="4" width="1" height="10" fill="#1a6aa0"/>
<rect x="373" y="2" width="8" height="8" fill="#3aa21c"/>
<rect x="374" y="5" width="6" height="4" fill="#ffffff"/>
<rect x="375" y="6" width="4" height="1" fill="#3aa21c"/>
<rect x="374" y="3" width="1" height="1" fill="#ffffff"/>
<rect x="381" y="2" width="8" height="8" fill="#1c5cd8"/>
<rect x="382" y="5" width="6" height="4" fill="#ffffff"/>
<rect x="383" y="6" width="4" height="1" fill="#9bb8f0"/>
<rect x="382" y="3" width="1" height="1" fill="#ffffff"/>
<rect x="373" y="10" width="8" height="8" fill="#1c5cd8"/>
<rect x="374" y="13" width="6" height="4" fill="#ffffff"/>
<rect x="375" y="14" width="4" height="1" fill="#9bb8f0"/>
<rect x="374" y="11" width="1" height="1" fill="#ffffff"/>
<rect x="381" y="10" width="8" height="8" fill="#3aa21c"/>
<rect x="382" y="13" width="6" height="4" fill="#ffffff"/>
<rect x="383" y="14" width="4" height="1" fill="#3aa21c"/>
<rect x="382" y="11" width="1" height="1" fill="#ffffff"/>
<rect x="547" y="3" width="16" height="14" fill="#3a7fc8"/>
<rect x="548" y="5" width="14" height="6" fill="#ffffff"/>
<rect x="548" y="12" width="14" height="4" fill="#ffffff"/>
<rect x="548" y="4" width="14" height="1" fill="#8fc0f0"/>
<rect x="631" y="3" width="1" height="6" fill="#404040"/>
<rect x="631" y="12" width="1" height="6" fill="#404040"/>
<rect x="624" y="10" width="6" height="1" fill="#404040"/>
<rect x="633" y="10" width="6" height="1" fill="#404040"/>
<rect x="631" y="10" width="1" height="1" fill="#8a8a6a"/>
<rect x="665" y="4" width="1" height="13" fill="#404040"/>
<rect x="688" y="10" width="12" height="1" fill="#404040"/>
<path d="M715.5 17.5 L728.5 4.5" stroke="#404040" stroke-width="1" fill="none"/>
<path d="M741.5 12.5 L750.5 3.5 M746.5 17.5 L756.5 7.5" stroke="#404040" stroke-width="1" fill="none"/>
<rect x="744" y="9" width="1" height="7" fill="#404040"/>
<rect x="747" y="7" width="1" height="7" fill="#404040"/>
<rect x="750" y="5" width="1" height="7" fill="#404040"/>
<rect x="753" y="2" width="1" height="7" fill="#404040"/>
<rect x="771" y="3" width="1" height="1" fill="#404040"/>
<rect x="773" y="3" width="1" height="1" fill="#404040"/>
<rect x="775" y="3" width="1" height="1" fill="#404040"/>
<rect x="777" y="3" width="1" height="1" fill="#404040"/>
<rect x="779" y="3" width="1" height="1" fill="#404040"/>
<rect x="781" y="3" width="1" height="1" fill="#404040"/>
<rect x="783" y="3" width="1" height="1" fill="#404040"/>
<rect x="771" y="6" width="1" height="1" fill="#404040"/>
<rect x="773" y="6" width="1" height="1" fill="#404040"/>
<rect x="775" y="6" width="1" height="1" fill="#404040"/>
<rect x="777" y="6" width="1" height="1" fill="#404040"/>
<rect x="779" y="6" width="1" height="1" fill="#404040"/>
<rect x="781" y="6" width="1" height="1" fill="#404040"/>
<rect x="783" y="6" width="1" height="1" fill="#404040"/>
<rect x="771" y="10" width="1" height="1" fill="#404040"/>
<rect x="773" y="10" width="1" height="1" fill="#404040"/>
<rect x="775" y="10" width="1" height="1" fill="#404040"/>
<rect x="777" y="10" width="1" height="1" fill="#404040"/>
<rect x="779" y="10" width="1" height="1" fill="#404040"/>
<rect x="781" y="10" width="1" height="1" fill="#404040"/>
<rect x="783" y="10" width="1" height="1" fill="#404040"/>
<rect x="771" y="14" width="1" height="1" fill="#404040"/>
<rect x="773" y="14" width="1" height="1" fill="#404040"/>
<rect x="775" y="14" width="1" height="1" fill="#404040"/>
<rect x="777" y="14" width="1" height="1" fill="#404040"/>
<rect x="779" y="14" width="1" height="1" fill="#404040"/>
<rect x="828" y="4" width="1" height="1" fill="#404040"/>
<rect x="828" y="16" width="1" height="1" fill="#404040"/>
<rect x="830" y="4" width="1" height="1" fill="#404040"/>
<rect x="830" y="16" width="1" height="1" fill="#404040"/>
<rect x="832" y="4" width="1" height="1" fill="#404040"/>
<rect x="832" y="16" width="1" height="1" fill="#404040"/>
<rect x="834" y="4" width="1" height="1" fill="#404040"/>
<rect x="834" y="16" width="1" height="1" fill="#404040"/>
<rect x="836" y="4" width="1" height="1" fill="#404040"/>
<rect x="836" y="16" width="1" height="1" fill="#404040"/>
<rect x="838" y="4" width="1" height="1" fill="#404040"/>
<rect x="838" y="16" width="1" height="1" fill="#404040"/>
<rect x="840" y="4" width="1" height="1" fill="#404040"/>
<rect x="840" y="16" width="1" height="1" fill="#404040"/>
<rect x="828" y="4" width="1" height="1" fill="#404040"/>
<rect x="840" y="4" width="1" height="1" fill="#404040"/>
<rect x="828" y="6" width="1" height="1" fill="#404040"/>
<rect x="840" y="6" width="1" height="1" fill="#404040"/>
<rect x="828" y="8" width="1" height="1" fill="#404040"/>
<rect x="840" y="8" width="1" height="1" fill="#404040"/>
<rect x="828" y="10" width="1" height="1" fill="#404040"/>
<rect x="840" y="10" width="1" height="1" fill="#404040"/>
<rect x="828" y="12" width="1" height="1" fill="#404040"/>
<rect x="840" y="12" width="1" height="1" fill="#404040"/>
<rect x="828" y="14" width="1" height="1" fill="#404040"/>
<rect x="840" y="14" width="1" height="1" fill="#404040"/>
<rect x="828" y="16" width="1" height="1" fill="#404040"/>
<rect x="840" y="16" width="1" height="1" fill="#404040"/>
<rect x="827" y="3" width="2" height="1" fill="#404040"/>
<g shape-rendering="geometricPrecision">
<path d="M286 12.6 C288.5 11 290 7.2 292.3 7.2 C294.5 7.2 295.5 10.2 297.8 11" fill="none" stroke="#1e9e1e" stroke-width="1.5"/>
<path d="M416.3 6.3 L420 9.5 L416.3 12.8 Z" fill="#5fe85f" stroke="#118a11" stroke-width="1"/>
<path d="M446.5 9.5 L450.8 9.5 M446.5 9.5 L449 7.3 M446.5 9.5 L449 11.7" stroke="#e05a00" stroke-width="1.3" fill="none"/>
<path d="M59.6 3.2 L69.4 9.3 L69.9 12.4 L61.7 17.7 L54 11.9 Z" fill="#c8901a" stroke="#a8720c" stroke-width="1.1"/>
<path d="M59.9 4.2 L68.6 9.6 L61.4 14.4 L55.3 10.9 Z" fill="#f2c832"/>
<path d="M60.2 5.4 L63.5 7.4 L59.6 11.2 L57.2 10 Z" fill="#fbe27a"/>
<path d="M84.5 2.5 L91 2 L94.8 3.6 L94.8 11.5 L85.5 11.5 Z" fill="#2196f3"/>
<path d="M84.5 2.5 L87 4.6 L87 11.5 L85.5 11.5 Z" fill="#0b6fd0"/>
<rect x="88.5" y="6" width="5" height="1.6" fill="#d6ecff"/>
<path d="M84.8 17.3 C82 17.3 81.8 13.6 84.6 13.3 C84.8 11 88 10.4 89.2 12.2 C90.5 10 94.6 10.6 94.6 13.2 C97.8 12.8 98.4 17.3 95.4 17.3 Z" fill="#eef3fa" stroke="#5b7fb8" stroke-width="1"/>
<path d="M118.3 2.4000000000000004 A7.6 7.6 0 0 0 118.3 17.6" fill="none" stroke="#3b6fd4" stroke-width="1.2" opacity="0.45"/>
<path d="M118.3 2.4000000000000004 A7.6 7.6 0 0 1 118.3 17.6" fill="none" stroke="#4fae5a" stroke-width="1.2" opacity="0.45"/>
<path d="M118.3 4.8 A5.2 5.2 0 0 0 118.3 15.2" fill="none" stroke="#3b6fd4" stroke-width="1.2" opacity="0.7"/>
<path d="M118.3 4.8 A5.2 5.2 0 0 1 118.3 15.2" fill="none" stroke="#4fae5a" stroke-width="1.2" opacity="0.7"/>
<path d="M118.3 7.2 A2.8 2.8 0 0 0 118.3 12.8" fill="none" stroke="#3b6fd4" stroke-width="1.2" opacity="0.9"/>
<path d="M118.3 7.2 A2.8 2.8 0 0 1 118.3 12.8" fill="none" stroke="#4fae5a" stroke-width="1.2" opacity="0.9"/>
<circle cx="118.3" cy="9.6" r="1.6" fill="#2a5fd0"/>
<path d="M118.9 10 L118.9 17.8" stroke="#22a022" stroke-width="1.6"/>
<path d="M137.6 9.4 L152 9.4 L146 18 Z" fill="#f5d94a" stroke="#d8a820" stroke-width="0.8"/>
<ellipse cx="145" cy="6.7" rx="7.7" ry="2.6" fill="#4aa8d8" stroke="#2f8fc0" stroke-width="0.6"/>
<ellipse cx="145" cy="4.4" rx="3.9" ry="2.7" fill="#6fc0e8"/>
<circle cx="149.7" cy="13.8" r="4" fill="#e02810"/>
<rect x="147.9" y="12" width="3.4" height="3.4" fill="#ffffff"/>
<path d="M326.70000000000005 12.2 L331.90000000000003 16.8" stroke="#c89a10" stroke-width="3.2"/>
<path d="M327.1 12 L332.1 16.4" stroke="#f0d040" stroke-width="1.2"/>
<circle cx="323.1" cy="7.9" r="5.4" fill="#dff1ff" stroke="#2f78c8" stroke-width="1.3"/>
<path d="M319.90000000000003 7.9 H326.3" stroke="#4a8fb8" stroke-width="1.8"/>
<path d="M323.1 4.7 V11.1" stroke="#4a8fb8" stroke-width="1.8"/>
<path d="M354.8 12.2 L360.0 16.8" stroke="#c89a10" stroke-width="3.2"/>
<path d="M355.2 12 L360.2 16.4" stroke="#f0d040" stroke-width="1.2"/>
<circle cx="351.2" cy="7.9" r="5.4" fill="#dff1ff" stroke="#2f78c8" stroke-width="1.3"/>
<path d="M348.0 7.9 H354.4" stroke="#4a8fb8" stroke-width="1.8"/>
<path d="M470.8 2.6 L478.6 2.6 L481.2 5.2 L481.2 15.2 L470.8 15.2 Z" fill="#ffffff" stroke="#8a8a8a" stroke-width="1"/>
<path d="M478.2 8 H482.2 V11.9 H485.9 V15.9 H482.2 V20 H478.2 V15.9 H474.2 V11.9 H478.2 Z" fill="#2fd02f" stroke="#0a7a0a" stroke-width="1"/>
<circle cx="516" cy="9.8" r="6.6" fill="#ffffff" stroke="#1a6ad8" stroke-width="2.6"/>
<path d="M516 5.6 V9.9 H518.8" stroke="#333" stroke-width="1.2" fill="none"/>
<path d="M549.5 9.3 H551.5 L553 8.3 L554.5 7.5 L556 8.3 H558 L560 7.5" stroke="#9a2a10" stroke-width="1.2" fill="none"/>
<path d="M550.5 14.4 L552.5 13.5 L554.5 14.4 L557.2 12.6 L559.5 14.6" stroke="#1a8a1a" stroke-width="1.2" fill="none"/>
<path d="M599.2 2.9 L599.2 13.6 L601.9 11.4 L604.2 16.5 L606.1 15.6 L603.8 10.7 L607 10.4 Z" fill="#505050"/>
<path d="M855.2 8.2 L858.5 4.2 L861.8 8.2 Z" fill="#505050"/>
<path d="M862.4 12.9 L869 12.9 L865.7 16.9 Z" fill="#505050"/>
<path d="M857.6 12 L859.7 13.8 L863.7 8.5" stroke="#505050" stroke-width="1.2" fill="none"/>
<path d="M1615.6 10.6 L1611.6 14.6" stroke="#1a50d0" stroke-width="2.4" stroke-linecap="round"/>
<circle cx="1618.6" cy="7.4" r="3.9" fill="#ffffff" stroke="#2a62dc" stroke-width="1.3"/>
<path d="M1641 7.6 C1645 7.6 1647 10 1647 12.2 C1647 15 1644 16.6 1641.5 16.6 L1639.6 16.6 L1638.2 18.6 L1638 16.4 C1636.4 15.6 1635.4 14 1635.4 12.2 C1635.4 9.6 1637.6 7.6 1641 7.6 Z" fill="#dcdce6" stroke="#b4b4be" stroke-width="0.8"/>
<circle cx="1649.5" cy="7.4" r="8.2" fill="#e03a1e"/>
</g></g>
</svg>
<div class="t" style="left:5.5px;top:3px;font-size:11.5px;letter-spacing:1.3px;text-shadow:0 0 0 #000">新订单</div>
<div class="t" style="left:157.3px;top:3px;font-size:11.5px;letter-spacing:.9px;text-shadow:0 0 0 #000">自动交易</div>
<div class="t" style="left:902px;top:5px;font-family:'DejaVu Sans','Liberation Sans',sans-serif;font-size:9px;color:#303030;letter-spacing:.5px">M1</div>
<div class="t" style="left:930px;top:5px;font-family:'DejaVu Sans','Liberation Sans',sans-serif;font-size:9px;color:#303030;letter-spacing:.5px">M5</div>
<div class="t" style="left:956px;top:5px;font-family:'DejaVu Sans','Liberation Sans',sans-serif;font-size:9px;color:#303030;letter-spacing:.5px">M15</div>
<div class="t" style="left:984px;top:5px;font-family:'DejaVu Sans','Liberation Sans',sans-serif;font-size:9px;color:#303030;letter-spacing:.5px">M30</div>
<div class="t" style="left:1015px;top:5px;font-family:'DejaVu Sans','Liberation Sans',sans-serif;font-size:9px;color:#303030;letter-spacing:.5px">H1</div>
<div class="t" style="left:1042px;top:5px;font-family:'DejaVu Sans','Liberation Sans',sans-serif;font-size:9px;color:#303030;letter-spacing:.5px">H4</div>
<div class="t" style="left:1071px;top:5px;font-family:'DejaVu Sans','Liberation Sans',sans-serif;font-size:9px;color:#303030;letter-spacing:.5px">D1</div>
<div class="t" style="left:1098px;top:5px;font-family:'DejaVu Sans','Liberation Sans',sans-serif;font-size:9px;color:#303030;letter-spacing:.5px">W1</div>
<div class="t" style="left:1125px;top:5px;font-family:'DejaVu Sans','Liberation Sans',sans-serif;font-size:9px;color:#303030;letter-spacing:.5px">MN</div>
<div class="t" style="left:801.3px;top:4px;font-size:13px;color:#505050;line-height:13px;height:13px;text-shadow:0 0 0 #505050">A</div>
<div class="t" style="left:753px;top:13px;font-size:7px;font-weight:bold;color:#303030;line-height:8px;height:8px">E</div>
<div class="t" style="left:781px;top:13px;font-size:7px;font-weight:bold;color:#303030;line-height:8px;height:8px">F</div>
<div class="t" style="left:830.3px;top:6px;font-size:12px;color:#505050;line-height:11px;height:11px;text-shadow:0 0 0 #505050">T</div>
<div class="t" style="left:472.5px;top:3px;font-family:'Liberation Serif',serif;font-style:italic;font-size:10px;color:#555;line-height:11px;height:11px">f</div>
<div class="t" style="left:1645px;top:1px;font-size:13px;font-weight:bold;color:#fff;line-height:13px;height:13px">1</div>
<div class="t ax" style="left:1622px;top:32px;">28295.0</div>
<div class="t ax" style="left:1622px;top:65px;">28159.0</div>
<div class="t ax" style="left:1622px;top:131px;">27883.0</div>
<div class="t ax" style="left:1622px;top:164px;">27747.0</div>
<div class="t ax" style="left:1622px;top:197px;">27607.0</div>
<div class="t ax" style="left:1622px;top:230px;">27471.0</div>
<div class="t ax" style="left:1622px;top:263px;">27335.0</div>
<div class="t ax" style="left:1622px;top:296px;">27199.0</div>
<div class="t ax" style="left:1622px;top:329px;">27059.0</div>
<div class="t ax" style="left:1622px;top:362px;">26923.0</div>
<div class="t ax" style="left:1622px;top:395px;">26787.0</div>
<div class="t ax" style="left:1622px;top:428px;">26651.0</div>
<div class="t ax" style="left:1622px;top:461px;">26515.0</div>
<div class="t ax" style="left:1622px;top:494px;">26375.0</div>
<div class="t ax" style="left:1622px;top:527px;">26239.0</div>
<div class="t ax" style="left:1622px;top:560px;">26103.0</div>
<div class="t ax" style="left:1622px;top:593px;">25967.0</div>
<div class="t ax w lb" style="left:1618px;top:37px;background:#ff0000">28266.9</div>
<div class="t ax w lb" style="left:1618px;top:68px;background:#ff0000">28138.5</div>
<div class="t ax w lb" style="left:1618px;top:100px;background:#000000">28012.5</div>
<div class="t ax w lb" style="left:1618px;top:112px;background:#ffa500">27955.4</div>
<div class="t ax w lb" style="left:1618px;top:142px;background:#0000ff">27831.1</div>
<div class="t ax w lb" style="left:1618px;top:174px;background:#0000ff">27699.9</div>
<div class="t ax" style="left:4px;top:820px;">7 <span class="J">Jul</span> 2022</div>
<div class="t ax" style="left:68px;top:820px;">8 <span class="J">Jul</span> 10:55</div>
<div class="t ax" style="left:132px;top:820px;">11 <span class="J">Jul</span> 00:00</div>
<div class="t ax" style="left:196px;top:820px;">11 <span class="J">Jul</span> 18:55</div>
<div class="t ax" style="left:260px;top:820px;">12 <span class="J">Jul</span> 10:55</div>
<div class="t ax" style="left:324px;top:820px;">13 <span class="J">Jul</span> 00:00</div>
<div class="t ax" style="left:388px;top:820px;">13 <span class="J">Jul</span> 18:55</div>
<div class="t ax" style="left:452px;top:820px;">14 <span class="J">Jul</span> 10:55</div>
<div class="t ax" style="left:516px;top:820px;">15 <span class="J">Jul</span> 00:00</div>
<div class="t ax" style="left:580px;top:820px;">15 <span class="J">Jul</span> 18:55</div>
<div class="t ax" style="left:644px;top:820px;">18 <span class="J">Jul</span> 10:55</div>
<div class="t ax" style="left:708px;top:820px;">19 <span class="J">Jul</span> 00:00</div>
<div class="t ax" style="left:772px;top:820px;">19 <span class="J">Jul</span> 18:55</div>
<div class="t ax" style="left:836px;top:820px;">20 <span class="J">Jul</span> 10:55</div>
<div class="t ax" style="left:900px;top:820px;">21 <span class="J">Jul</span> 00:00</div>
<div class="t ax" style="left:964px;top:820px;">21 <span class="J">Jul</span> 18:55</div>
<div class="t ax" style="left:1028px;top:820px;">22 <span class="J">Jul</span> 10:55</div>
<div class="t ax" style="left:1092px;top:820px;">25 <span class="J">Jul</span> 00:00</div>
<div class="t ax" style="left:1156px;top:820px;">25 <span class="J">Jul</span> 18:55</div>
<div class="t ax" style="left:1220px;top:820px;">26 <span class="J">Jul</span> 10:55</div>
<div class="t ax" style="left:1284px;top:820px;">27 <span class="J">Jul</span> 00:00</div>
<div class="t ax" style="left:1348px;top:820px;">27 <span class="J">Jul</span> 18:55</div>
<div class="t ax" style="left:1620px;top:605px;">254.9</div>
<div class="t ax" style="left:1620px;top:691px;">0.00</div>
<div class="t ax" style="left:1620px;top:698px;">-38.69</div>
<div class="t ax" style="left:1620px;top:714px;">100</div>
<div class="t ax" style="left:1619px;top:729px;">80</div>
<div class="t ax" style="left:1619px;top:759px;">50</div>
<div class="t ax" style="left:1620px;top:795px;">15</div>
<div class="t ax" style="left:1620px;top:804px;">0</div>
<div class="t ax" style="left:20px;top:29px;"><span class="J">J</span><span class="L" style="letter-spacing:-.2px">PN225-,H4</span>&nbsp; 27955.0 28042.5 27900.0 28012.5</div>
<div class="t ax" style="left:9px;top:607px;"><span style="letter-spacing:.42px">MACD(12,26,9)</span> 89.18 44.41</div>
<div class="t ax" style="left:9px;top:716px;"><span style="letter-spacing:.45px">RSI(14)</span> 68.5207</div>
</body></html>
